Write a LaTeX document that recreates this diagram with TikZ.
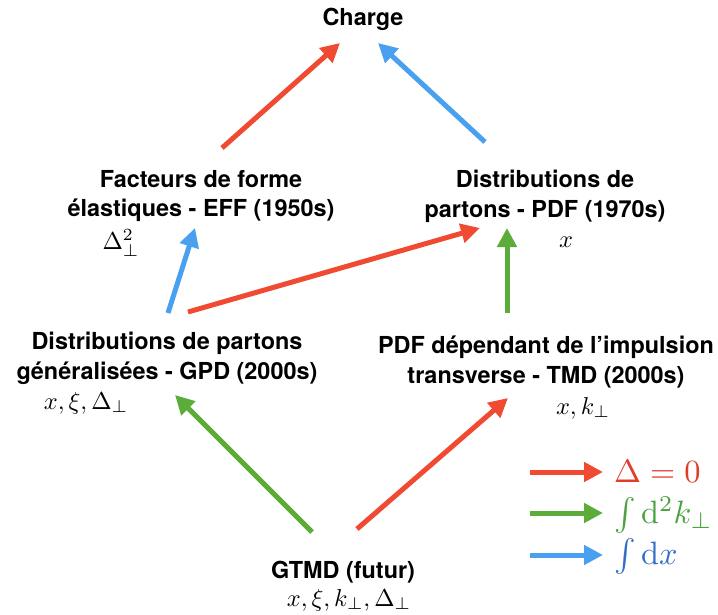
\documentclass[tikz,border=0pt]{standalone}
\usepackage{graphicx}
\usepackage[no-math]{fontspec}
\setmainfont{TeX Gyre Heros}
\usetikzlibrary{arrows.meta}
\definecolor{cred}{RGB}{240,74,50}
\definecolor{cgreen}{RGB}{92,172,58}
\definecolor{cblue}{RGB}{74,160,240}
\definecolor{tred}{RGB}{222,62,42}
\definecolor{tgreen}{RGB}{76,162,66}
\definecolor{tblue}{RGB}{50,112,200}
% formulas are set at 10pt and enlarged
\newcommand{\varmath}[1]{\scalebox{2.45}{$#1$}}
\newcommand{\legmath}[1]{\scalebox{3.25}{$#1$}}
\tikzset{
  title/.style={align=center, inner sep=0pt, font=\fontsize{23.5}{30}\selectfont\bfseries},
  vars/.style={inner sep=0pt},
  legtext/.style={inner sep=0pt, anchor=west},
  flow/.style={line width=5bp, -{Triangle[length=19bp,width=19bp]}},
}
\begin{document}
\begin{tikzpicture}[x=1bp, y=-1bp]
\useasboundingbox (0,0) rectangle (718,615);

% quantities
\node[title] (charge) at (363,19) {Charge};
\node[title] (eff) at (201,196) {Facteurs de forme\\élastiques - EFF (1950s)};
\node[vars] (effv) at (121,243) {\varmath{\Delta_\perp^2}};
\node[title] (pdf) at (545,196) {Distributions de\\partons - PDF (1970s)};
\node[vars] (pdfv) at (566,242) {\varmath{x}};
\node[title] (gpd) at (167,358) {Distributions de partons\\généralisées - GPD (2000s)};
\node[vars] (gpdv) at (86,403) {\varmath{x,\xi,\Delta_\perp}};
\node[title] (tmd) at (546,362) {PDF dépendant de l’impulsion\\transverse - TMD (2000s)};
\node[vars] (tmdv) at (583,408) {\varmath{x,k_\perp}};
\node[title] (gtmd) at (343,572) {GTMD (futur)};
\node[vars] (gtmdv) at (349,600) {\varmath{x,\xi,k_\perp,\Delta_\perp}};

% reductions
\draw[flow, cred]   ([shift={(21,-48)}]eff.center) -- ([shift={(-23,24)}]charge.center);
\draw[flow, cblue]  ([shift={(-60,-54)}]pdf.center) -- ([shift={(15,24)}]charge.center);
\draw[flow, cblue]  ([shift={(1,-45)}]gpd.center) -- ([shift={(-6,32)}]eff.center);
\draw[flow, cred]   ([shift={(21,-46)}]gpd.center) -- ([shift={(-65,32)}]pdf.center);
\draw[flow, cgreen] ([shift={(-39,-49)}]tmd.center) -- ([shift={(-38,32)}]pdf.center);
\draw[flow, cgreen] ([shift={(-31,-40)}]gtmd.center) -- ([shift={(8,37)}]gpd.center);
\draw[flow, cred]   ([shift={(14,-43)}]gtmd.center) -- ([shift={(-38,36)}]tmd.center);

% legend
\coordinate (l1a) at (530,472); \coordinate (l1b) at (603,472);
\coordinate (l2a) at (530,513); \coordinate (l2b) at (603,513);
\coordinate (l3a) at (530,555); \coordinate (l3b) at (603,555);
\draw[flow, cred]   (l1a) -- (l1b);
\draw[flow, cgreen] (l2a) -- (l2b);
\draw[flow, cblue]  (l3a) -- (l3b);
\node[legtext, text=tred]   (leg1) at (614,471) {\legmath{\Delta = 0}};
\node[legtext, text=tgreen] (leg2) at (614,515) {\legmath{\int \mathrm{d}^2 k_\perp}};
\node[legtext, text=tblue]  (leg3) at (614,556) {\legmath{\int \mathrm{d}x}};
\end{tikzpicture}
\end{document}
